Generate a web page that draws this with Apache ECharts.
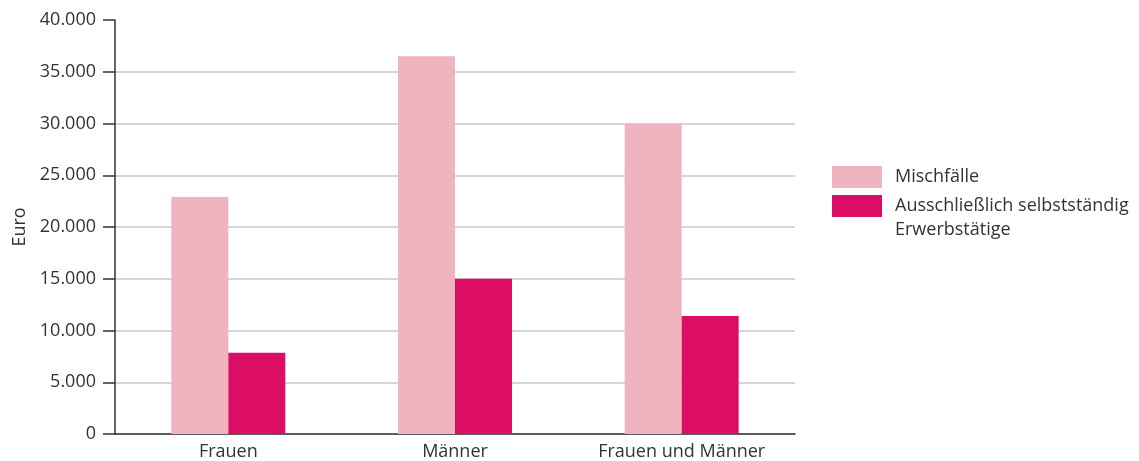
<!DOCTYPE html>
<html><head><meta charset="utf-8">
<script src="https://cdn.jsdelivr.net/npm/echarts@6/dist/echarts.min.js"></script>
<style>html,body{margin:0;padding:0;background:#fff}#c{width:1139px;height:461px}</style>
</head><body><div id="c"></div>
<script>
const categories = ['Frauen', 'Männer', 'Frauen und Männer'];
const seriesNames = ['Mischfälle', 'Ausschließlich selbstständig\nErwerbstätige'];
const mischfaelle = [22900, 36500, 30000];
const selbststaendig = [7850, 15000, 11400];
const yMax = 40000, yInterval = 5000;
const yAxisName = 'Euro';

const FONT = 'Open Sans';
const FS = 18;
const TXT = '#333333';
const chart = echarts.init(document.getElementById('c'));
const fmt = v => String(v).replace(/\B(?=(\d{3})+(?!\d))/g, '.');
const nLines = yMax / yInterval + 1;
const gridColors = [];
for (let i = 0; i < nLines; i++) gridColors.push(i === nLines - 1 ? 'rgba(0,0,0,0)' : '#c8c8c8');

chart.setOption({
  animation: false,
  textStyle: { fontFamily: FONT },
  grid: { left: 115, right: 344, top: 20, bottom: 27, containLabel: false },
  legend: [
    { orient: 'vertical', left: 832, top: 165, padding: 0, itemWidth: 50, itemHeight: 22,
      icon: 'rect', data: [{ name: seriesNames[0] }],
      textStyle: { fontFamily: FONT, fontSize: FS, color: TXT, lineHeight: 24, padding: [0, 0, 0, 8] } },
    { orient: 'vertical', left: 832, top: 170, padding: 0, itemWidth: 50, itemHeight: 22,
      icon: 'rect', data: [{ name: seriesNames[1] }],
      formatter: name => ' \n' + name,
      textStyle: { fontFamily: FONT, fontSize: FS, color: TXT, lineHeight: 24, padding: [0, 0, 0, 8] } }
  ],
  xAxis: {
    type: 'category', data: categories,
    axisLine: { lineStyle: { color: TXT, width: 1.5 } },
    axisTick: { show: false },
    axisLabel: { color: TXT, fontSize: FS, fontFamily: FONT, margin: 9 }
  },
  yAxis: {
    type: 'value', min: 0, max: yMax, interval: yInterval,
    name: yAxisName, nameLocation: 'middle', nameRotate: 90, nameGap: 86,
    nameTextStyle: { color: TXT, fontSize: FS, fontFamily: FONT },
    axisLine: { show: true, lineStyle: { color: TXT, width: 1.5 } },
    axisTick: { show: true, length: 12, lineStyle: { color: TXT, width: 1.5 } },
    axisLabel: { color: TXT, fontSize: FS, fontFamily: FONT, margin: 19, formatter: fmt },
    splitLine: { show: true, lineStyle: { color: gridColors, width: 1.5 } }
  },
  series: [
    { name: seriesNames[0], type: 'bar', data: mischfaelle, barWidth: 57, barGap: '0%',
      itemStyle: { color: '#F0B3C0' } },
    { name: seriesNames[1], type: 'bar', data: selbststaendig, barWidth: 57, barGap: '0%',
      itemStyle: { color: '#DC0D64' } }
  ]
});
</script></body></html>
